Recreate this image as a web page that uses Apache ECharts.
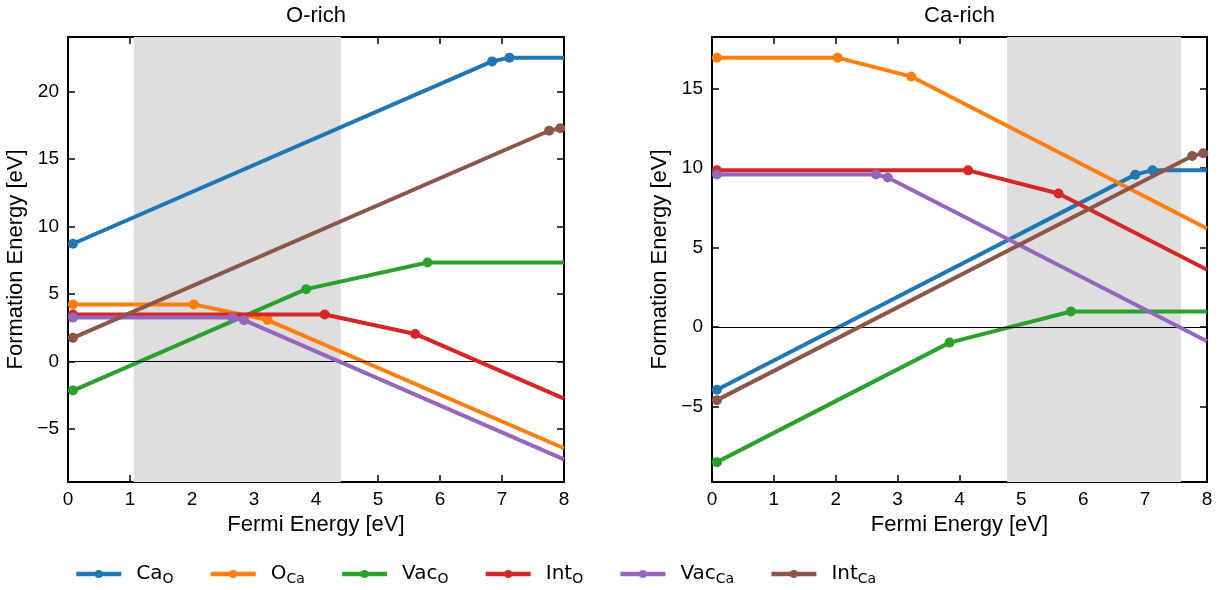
<!DOCTYPE html>
<html>
<head>
<meta charset="utf-8">
<script src="https://cdn.jsdelivr.net/npm/echarts@6/dist/echarts.min.js"></script>
<style>html,body{margin:0;padding:0;background:#fff}#c{width:1225px;height:590px}</style>
</head>
<body>
<div id="c"></div>
<script>
// ---- Data (Fermi energy breakpoints shared by both panels) ----
const seriesNames = ['Ca_O', 'O_Ca', 'Vac_O', 'Int_O', 'Vac_Ca', 'Int_Ca'];
const seriesColors = ['#1f77b4', '#ff7f0e', '#2ca02c', '#d62728', '#9467bd', '#8c564b'];

const xCaO   = [0.08, 6.84, 7.12, 8];
const xOCa   = [0.08, 2.03, 3.22, 8];
const xVacO  = [0.08, 3.84, 5.80, 8];
const xIntO  = [0.08, 4.14, 5.60, 8];
const xVacCa = [0.08, 2.65, 2.84, 8];
const xIntCa = [0.08, 7.76, 7.94, 8];

// O-rich formation energies (eV)
const oRichCaO   = [8.72, 22.24, 22.52, 22.52];
const oRichOCa   = [4.22, 4.22, 3.06, -6.45];
const oRichVacO  = [-2.17, 5.35, 7.33, 7.33];
const oRichIntO  = [3.47, 3.47, 2.03, -2.77];
const oRichVacCa = [3.24, 3.24, 3.05, -7.27];
const oRichIntCa = [1.74, 17.10, 17.28, 17.34];

// Ca-rich formation energies (eV)
const caRichCaO   = [-3.95, 9.59, 9.87, 9.87];
const caRichOCa   = [16.95, 16.95, 15.76, 6.20];
const caRichVacO  = [-8.50, -0.98, 0.98, 0.98];
const caRichIntO  = [9.86, 9.86, 8.40, 3.60];
const caRichVacCa = [9.60, 9.60, 9.41, -0.89];
const caRichIntCa = [-4.60, 10.76, 10.94, 11.00];

// shaded Fermi-level windows
const oRichBand  = [1.06, 4.40];
const caRichBand = [4.77, 7.58];

// axis limits and ticks
const xRange = [0, 8];
const xTickStep = 1;
const oRichYRange  = [-8.95, 24.05];
const caRichYRange = [-9.75, 18.25];
const oRichYTicks  = [-5, 0, 5, 10, 15, 20];
const caRichYTicks = [-5, 0, 5, 10, 15];

const panelTitles = ['O-rich', 'Ca-rich'];
const xAxisName = 'Fermi Energy [eV]';
const yAxisName = 'Formation Energy [eV]';
const legendRich = {
  'Ca_O': '{m|Ca}{s|O}', 'O_Ca': '{m|O}{s|Ca}', 'Vac_O': '{m|Vac}{s|O}',
  'Int_O': '{m|Int}{s|O}', 'Vac_Ca': '{m|Vac}{s|Ca}', 'Int_Ca': '{m|Int}{s|Ca}'
};

const xs = [xCaO, xOCa, xVacO, xIntO, xVacCa, xIntCa];
const panelsY = [
  [oRichCaO, oRichOCa, oRichVacO, oRichIntO, oRichVacCa, oRichIntCa],
  [caRichCaO, caRichOCa, caRichVacO, caRichIntO, caRichVacCa, caRichIntCa]
];
const bands = [oRichBand, caRichBand];
const yRanges = [oRichYRange, caRichYRange];
const yTicks = [oRichYTicks, caRichYTicks];

// ---- Layout ----
const FONT = "'Liberation Sans', Arial, sans-serif";
const grids = [
  { left: 68, top: 37, width: 496, height: 445 },
  { left: 712, top: 37, width: 495, height: 445 }
];
const minus = v => String(v).replace('-', '\u2212');

const xAxes = [], yAxes = [], series = [], titles = [];
grids.forEach((g, p) => {
  titles.push({
    text: panelTitles[p], left: g.left + g.width / 2, top: 5, textAlign: 'center', padding: 0,
    textStyle: { fontFamily: FONT, fontSize: 22, fontWeight: 'normal', color: '#000' }
  });
  const axLine = { show: true, onZero: false, lineStyle: { color: '#000', width: 2 } };
  const tick = { show: true, inside: true, length: 7, lineStyle: { color: '#000', width: 1.5 } };
  xAxes.push({
    type: 'value', gridIndex: p, position: 'bottom', min: xRange[0], max: xRange[1], interval: xTickStep,
    axisLine: axLine, axisTick: tick, splitLine: { show: false },
    axisLabel: { margin: 8, fontFamily: FONT, fontSize: 19, color: '#000', formatter: minus },
    name: xAxisName, nameLocation: 'middle', nameGap: 30,
    nameTextStyle: { fontFamily: FONT, fontSize: 22, color: '#000' }
  });
  xAxes.push({
    type: 'value', gridIndex: p, position: 'top', min: xRange[0], max: xRange[1], interval: xTickStep,
    axisLine: axLine, axisTick: tick, splitLine: { show: false }, axisLabel: { show: false }
  });
  yAxes.push({
    type: 'value', gridIndex: p, position: 'left', min: yRanges[p][0], max: yRanges[p][1],
    axisLine: axLine, splitLine: { show: false },
    axisTick: Object.assign({}, tick, { customValues: yTicks[p] }),
    axisLabel: { margin: 9, fontFamily: FONT, fontSize: 19, color: '#000', formatter: minus, customValues: yTicks[p] },
    name: yAxisName, nameLocation: 'middle', nameGap: 41,
    nameTextStyle: { fontFamily: FONT, fontSize: 22, color: '#000' }
  });
  yAxes.push({
    type: 'value', gridIndex: p, position: 'right', min: yRanges[p][0], max: yRanges[p][1],
    axisLine: axLine, splitLine: { show: false },
    axisTick: Object.assign({}, tick, { customValues: yTicks[p] }),
    axisLabel: { show: false }
  });
  // shaded window
  series.push({
    type: 'line', xAxisIndex: 2 * p, yAxisIndex: 2 * p, data: [], z: 0, silent: true,
    markArea: { silent: true, itemStyle: { color: '#dedede' }, data: [[{ xAxis: bands[p][0] }, { xAxis: bands[p][1] }]] }
  });
  // zero line
  series.push({
    type: 'line', xAxisIndex: 2 * p, yAxisIndex: 2 * p, data: [], z: 1, silent: true,
    markLine: { silent: true, symbol: 'none', label: { show: false }, lineStyle: { color: '#000', width: 1, type: 'solid' },
      data: [{ yAxis: 0 }] }
  });
  seriesNames.forEach((name, i) => {
    const xv = xs[i], yv = panelsY[p][i];
    const data = xv.map((x, k) => k === xv.length - 1 ? { value: [x, yv[k]], symbol: 'none' } : [x, yv[k]]);
    series.push({
      name, type: 'line', xAxisIndex: 2 * p, yAxisIndex: 2 * p, z: 2 + i,
      data, symbol: 'circle', symbolSize: 10, showSymbol: true,
      lineStyle: { color: seriesColors[i], width: 4 },
      itemStyle: { color: seriesColors[i] },
      emphasis: { disabled: true }, animation: false
    });
  });
});

const chart = echarts.init(document.getElementById('c'), null, { renderer: 'canvas' });
chart.setOption({
  animation: false,
  backgroundColor: '#fff',
  title: titles,
  grid: grids,
  xAxis: xAxes,
  yAxis: yAxes,
  legend: {
    data: seriesNames, left: 74, top: 564, padding: 0, itemGap: 35, itemWidth: 45, itemHeight: 10,
    lineStyle: { width: 4.5 },
    formatter: n => legendRich[n],
    textStyle: {
      padding: [0, 0, 0, 10], color: '#000',
      rich: {
        m: { fontFamily: "'DejaVu Sans', sans-serif", fontSize: 20, lineHeight: 24, verticalAlign: 'middle', color: '#000' },
        s: { fontFamily: "'DejaVu Sans', sans-serif", fontSize: 14, lineHeight: 12, verticalAlign: 'bottom', color: '#000' }
      }
    }
  },
  series
});
</script>
</body>
</html>
